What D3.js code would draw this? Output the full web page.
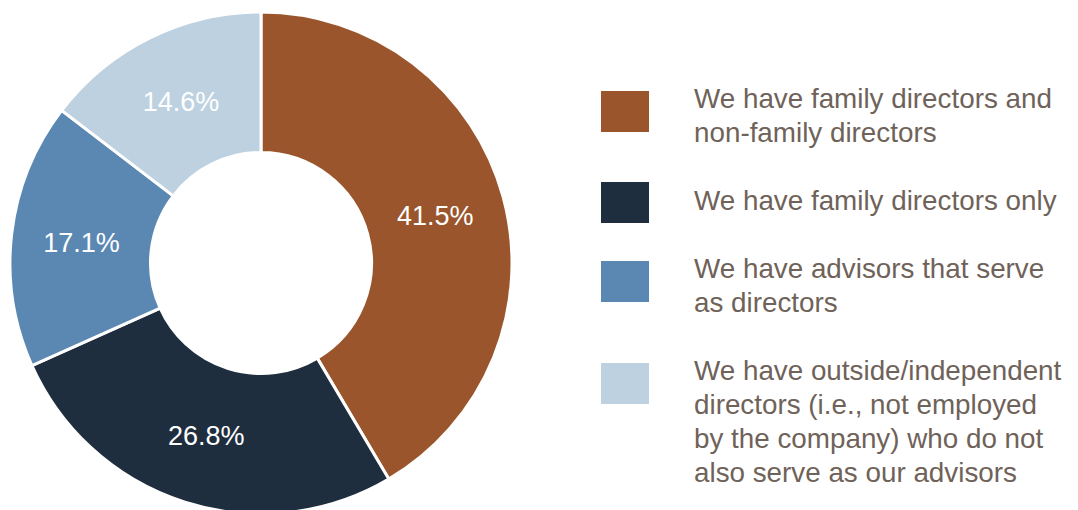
<!DOCTYPE html>
<html>
<head>
<meta charset="utf-8">
<script src="https://cdn.jsdelivr.net/npm/d3@7"></script>
<style>
  html, body { margin: 0; padding: 0; background: #fff; overflow: hidden; }
  svg { display: block; }
  text { font-family: "Liberation Sans", Arial, sans-serif; }
</style>
</head>
<body>
<svg id="chart" width="1078" height="510"></svg>
<script>
const categories = [
  "We have family directors and non-family directors",
  "We have family directors only",
  "We have advisors that serve as directors",
  "We have outside/independent directors (i.e., not employed by the company) who do not also serve as our advisors"
];
const legendLines = [
  ["We have family directors and", "non-family directors"],
  ["We have family directors only"],
  ["We have advisors that serve", "as directors"],
  ["We have outside/independent", "directors (i.e., not employed", "by the company) who do not", "also serve as our advisors"]
];
const values = [41.5, 26.8, 17.1, 14.6];
const colors = ["#9A552C", "#1F2E3F", "#5B88B2", "#BDD1E0"];

const W = 1078, H = 510;
const cx = 261, cy = 263, rOuter = 251, rInner = 110.5;

const svg = d3.select("#chart");
const data = values.map((v, i) => ({ cat: categories[i], value: v, color: colors[i] }));

const pie = d3.pie().value(d => d.value).sort(null);
const arc = d3.arc().innerRadius(rInner).outerRadius(rOuter);

const g = svg.append("g").attr("transform", `translate(${cx},${cy})`);
const arcs = pie(data);

g.selectAll("path.slice").data(arcs).join("path")
  .attr("class", "slice")
  .attr("d", arc)
  .attr("fill", d => d.data.color)
  .attr("stroke", "#fff")
  .attr("stroke-width", 3)
  .attr("stroke-linejoin", "miter");

g.selectAll("text.lbl").data(arcs).join("text")
  .attr("class", "lbl")
  .attr("transform", d => `translate(${arc.centroid(d)})`)
  .attr("text-anchor", "middle")
  .attr("dy", "0.36em")
  .attr("fill", "#fff")
  .attr("font-size", 27)
  .text(d => d3.format(".1f")(d.data.value) + "%");

// Legend
const lineH = 34;
const legX = 601, textX = 694, sq = 48, sqH = 41;
let baseline = 107.5;
const lg = svg.append("g");
legendLines.forEach((lines, i) => {
  const center = baseline + (lines.length > 1 ? 4 : -7);
  lg.append("rect")
    .attr("x", legX).attr("y", center - sqH / 2)
    .attr("width", sq).attr("height", sqH)
    .attr("fill", colors[i]);
  const t = lg.append("text")
    .attr("x", textX).attr("y", baseline)
    .attr("fill", "#6F6259")
    .attr("font-size", 27.8);
  lines.forEach((ln, j) => {
    t.append("tspan").attr("x", textX).attr("y", baseline + j * lineH).text(ln);
  });
  baseline += lines.length * lineH + 34;
});
</script>
</body>
</html>
